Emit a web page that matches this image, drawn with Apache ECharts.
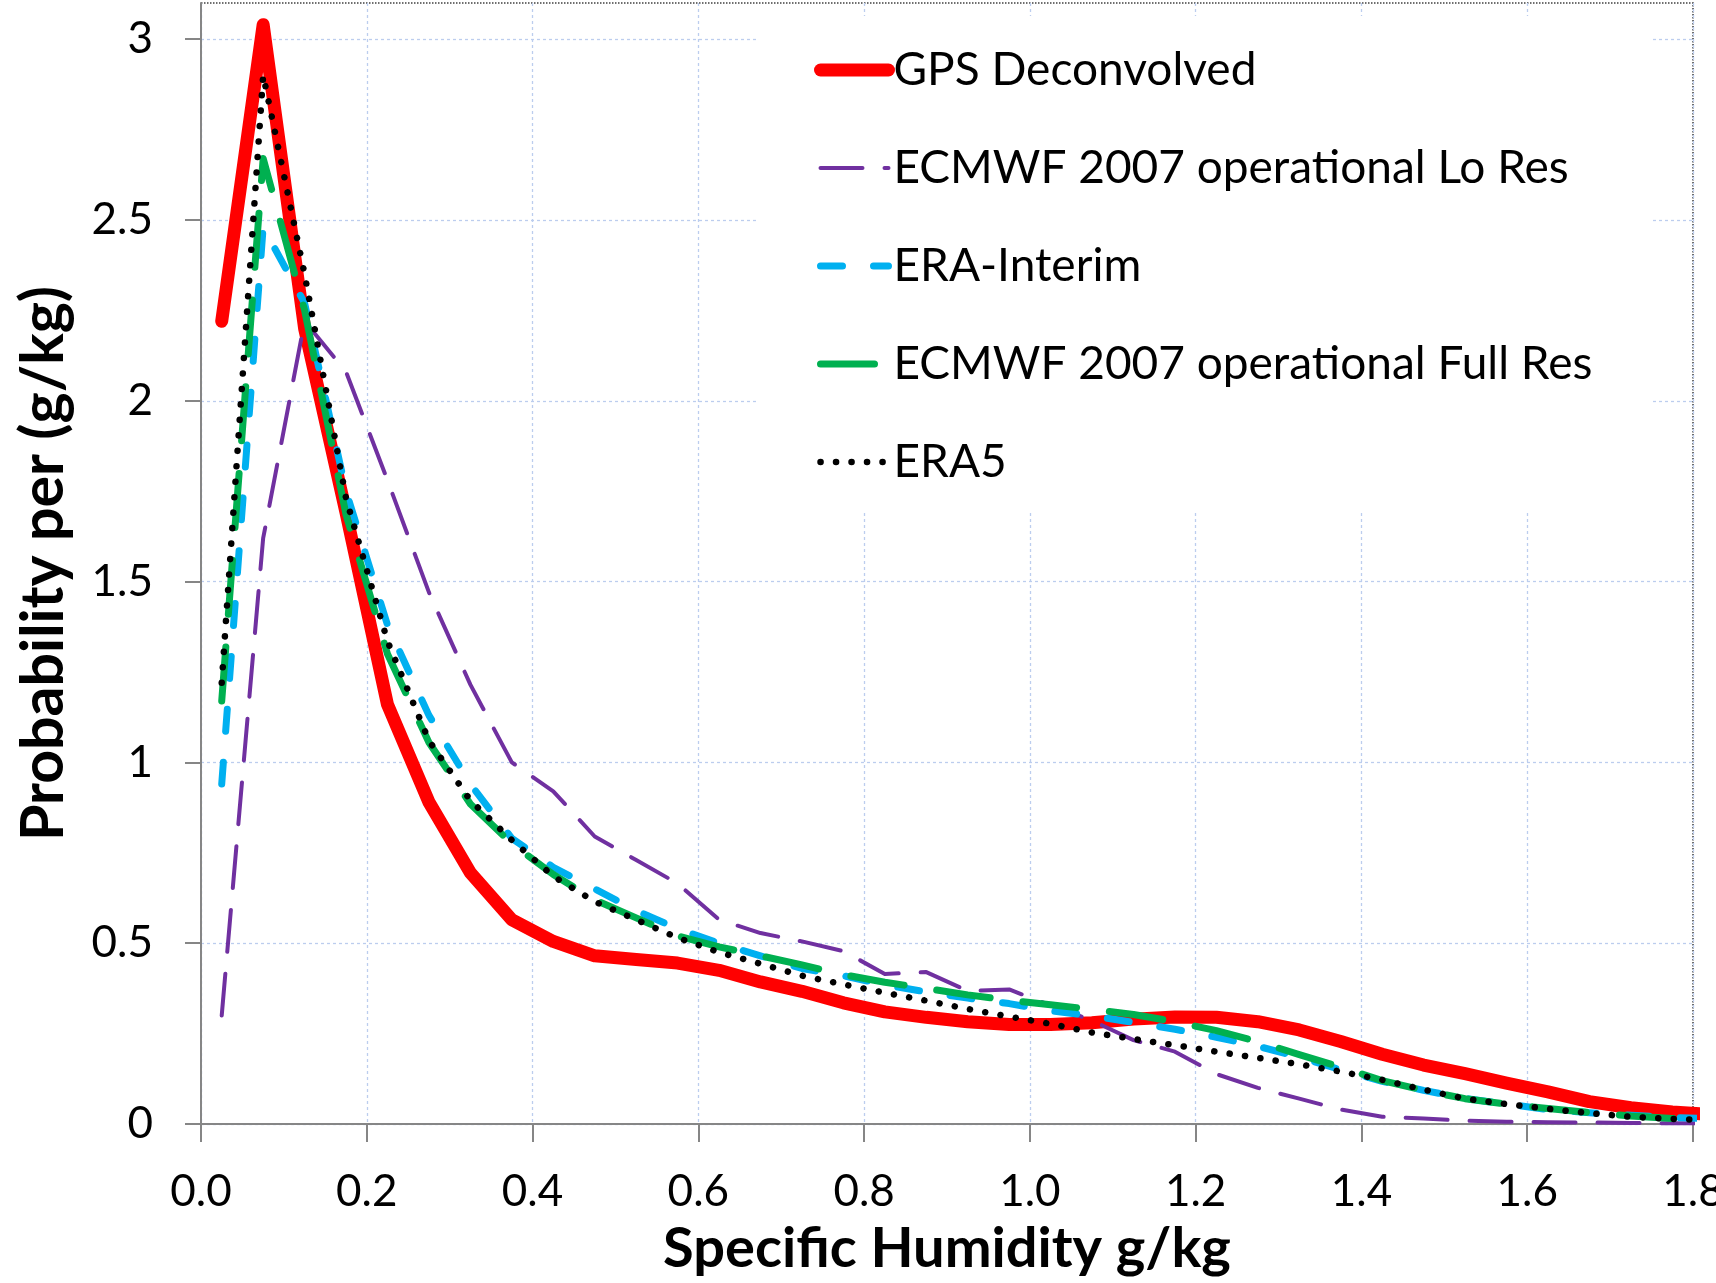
<!DOCTYPE html>
<html>
<head>
<meta charset="utf-8">
<script src="https://cdn.jsdelivr.net/npm/echarts@6/dist/echarts.min.js"></script>
<style>
html,body{margin:0;padding:0;background:#fff;}
#chart{width:1716px;height:1283px;}
</style>
</head>
<body>
<div id="chart"></div>
<script>
// ---- data ----
const humidity = [0.025,0.075,0.125,0.175,0.225,0.275,0.325,0.375,0.425,0.475,0.525,0.575,0.625,0.675,0.725,0.775,0.825,0.875,0.925,0.975,1.025,1.075,1.125,1.175,1.225,1.275,1.325,1.375,1.425,1.475,1.525,1.575,1.625,1.675,1.725,1.775,1.825];

const gpsDeconvolved = [2.22,3.04,2.2,1.69,1.16,0.89,0.695,0.565,0.505,0.465,0.455,0.445,0.425,0.393,0.367,0.335,0.31,0.295,0.283,0.275,0.275,0.28,0.29,0.296,0.295,0.283,0.26,0.228,0.193,0.163,0.139,0.113,0.089,0.062,0.045,0.033,0.026];

const ecmwfLoRes = [0.3,1.62,2.22,2.08,1.78,1.47,1.215,1.0,0.92,0.795,0.73,0.665,0.565,0.528,0.505,0.478,0.415,0.42,0.368,0.372,0.328,0.286,0.232,0.2,0.138,0.1,0.07,0.04,0.02,0.015,0.009,0.006,0.005,0.004,0.003,0.002,0.002];

const eraInterim = [0.94,2.48,2.27,1.75,1.38,1.13,0.94,0.79,0.71,0.65,0.59,0.54,0.50,0.465,0.43,0.41,0.385,0.365,0.348,0.333,0.313,0.299,0.281,0.262,0.24,0.215,0.185,0.15,0.118,0.093,0.071,0.055,0.04,0.031,0.024,0.018,0.014];

const ecmwfFullRes = [1.17,2.67,2.25,1.685,1.30,1.055,0.885,0.775,0.69,0.62,0.57,0.52,0.49,0.465,0.44,0.413,0.392,0.375,0.357,0.342,0.33,0.317,0.303,0.283,0.258,0.228,0.192,0.157,0.12,0.093,0.07,0.055,0.043,0.032,0.022,0.015,0.01];

const era5 = [1.22,2.9,2.35,1.73,1.335,1.06,0.895,0.785,0.685,0.615,0.565,0.515,0.475,0.443,0.41,0.386,0.363,0.341,0.318,0.297,0.277,0.253,0.235,0.218,0.2,0.183,0.165,0.145,0.122,0.095,0.07,0.055,0.042,0.03,0.02,0.014,0.011];

const seriesNames = ['GPS Deconvolved','ECMWF 2007 operational Lo Res','ERA-Interim','ECMWF 2007 operational Full Res','ERA5'];

const xTicks = [0,0.2,0.4,0.6,0.8,1.0,1.2,1.4,1.6,1.8];
const xTickLabels = ['0.0','0.2','0.4','0.6','0.8','1.0','1.2','1.4','1.6','1.8'];
const yTicks = [0,0.5,1,1.5,2,2.5,3];
const yTickLabels = ['0','0.5','1','1.5','2','2.5','3'];

// ---- chart ----
const FONT = 'Lato';
function pairs(ys){ return humidity.map((x,i)=>[x, ys[i]]); }
function lookup(ticks, labels, v){
  for (let i=0;i<ticks.length;i++){ if (Math.abs(ticks[i]-v) < 1e-6) return labels[i]; }
  return '';
}

const chart = echarts.init(document.getElementById('chart'), null, {renderer:'canvas'});

const gridLine = {lineStyle:{color:'#bccdee', width:1.3, type:[3,3]}};
const axisGray = '#868686';

const option = {
  animation:false,
  backgroundColor:'#ffffff',
  textStyle:{fontFamily:FONT},
  grid:{
    left:201, right:23, top:3, bottom:159,
    containLabel:false, outerBoundsMode:'none',
    show:true, borderColor:'#404040', borderWidth:1.5, borderType:'dotted'
  },
  legend:{
    data:seriesNames,
    orient:'vertical',
    left:757, top:16,
    padding:[29,60,23,57],
    itemGap:48,
    itemWidth:68, itemHeight:50,
    backgroundColor:'#ffffff',
    selectedMode:false,
    itemStyle:{color:'rgba(0,0,0,0)', opacity:0, borderWidth:0},
    lineStyle:{width:'inherit', type:'inherit', cap:'round'},
    textStyle:{fontFamily:FONT, fontSize:46, lineHeight:50, color:'#000'}
  },
  xAxis:{
    type:'value', min:0, max:1.8, interval:0.2,
    name:'Specific Humidity g/kg', nameLocation:'middle', nameGap:97,
    nameTextStyle:{fontFamily:FONT, fontSize:56, fontWeight:'bold', color:'#000'},
    axisLine:{show:true, onZero:false, lineStyle:{color:axisGray, width:2}},
    axisTick:{show:true, length:18, lineStyle:{color:axisGray, width:2}},
    axisLabel:{margin:46, fontFamily:FONT, fontSize:44, color:'#000',
      formatter:v=>lookup(xTicks,xTickLabels,v)},
    splitLine:gridLine
  },
  yAxis:{
    type:'value', min:0, max:3.1, interval:0.5,
    name:'Probability per (g/kg)', nameLocation:'middle', nameGap:128,
    nameTextStyle:{fontFamily:FONT, fontSize:59, fontWeight:'bold', color:'#000'},
    axisLine:{show:true, onZero:false, lineStyle:{color:axisGray, width:2}},
    axisTick:{show:true, length:16, lineStyle:{color:axisGray, width:2}, customValues:yTicks},
    axisLabel:{margin:48, fontFamily:FONT, fontSize:44, color:'#000',
      formatter:v=>lookup(yTicks,yTickLabels,v)},
    splitLine:gridLine
  },
  series:[
    {name:seriesNames[0], type:'line', data:pairs(gpsDeconvolved), symbol:'none', showSymbol:false, z:2,
     itemStyle:{color:'#ff0000'},
     lineStyle:{color:'#ff0000', width:13, cap:'round', join:'round'}},
    {name:seriesNames[1], type:'line', data:pairs(ecmwfLoRes), symbol:'none', showSymbol:false, z:3,
     itemStyle:{color:'#7030a0'},
     lineStyle:{color:'#7030a0', width:4, type:[42,22], cap:'round', join:'round'}},
    {name:seriesNames[2], type:'line', data:pairs(eraInterim), symbol:'none', showSymbol:false, z:4,
     itemStyle:{color:'#00b0f0'},
     lineStyle:{color:'#00b0f0', width:7, type:[22,31], cap:'round', join:'round'}},
    {name:seriesNames[3], type:'line', data:pairs(ecmwfFullRes), symbol:'none', showSymbol:false, z:5,
     itemStyle:{color:'#00b050'},
     lineStyle:{color:'#00b050', width:7, type:[54,33], cap:'round', join:'round'}},
    {name:seriesNames[4], type:'line', data:pairs(era5), symbol:'none', showSymbol:false, z:6,
     itemStyle:{color:'#000000'},
     lineStyle:{color:'#000000', width:6.5, type:[0.1,15.4], cap:'round', join:'round'}}
  ]
};
chart.setOption(option);
</script>
</body>
</html>
